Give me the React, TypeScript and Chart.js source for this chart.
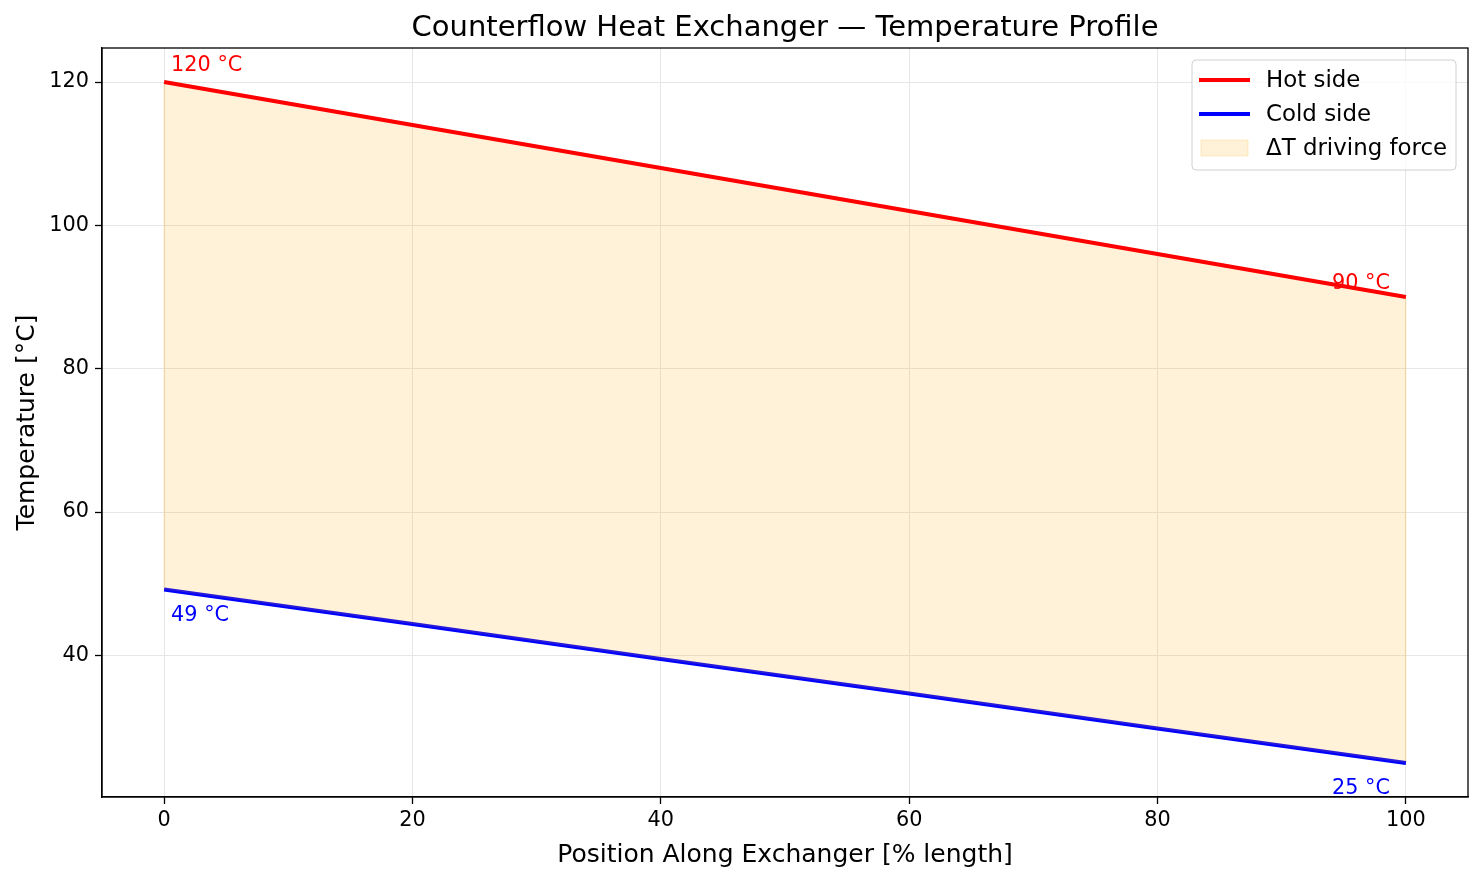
import React, { useEffect, useRef } from "react";
import { Chart, registerables } from "chart.js";

Chart.register(...registerables);

const positions = [0, 20, 40, 60, 80, 100];
const hotSide = [120, 114, 108, 102, 96, 90];
const coldSide = [49.2, 44.4, 39.5, 34.7, 29.8, 25.0];
const xTickValues = [0, 20, 40, 60, 80, 100];
const yTickValues = [40, 60, 80, 100, 120];
const legendLabels = ["Hot side", "Cold side", "ΔT driving force"];

const FONT = "'DejaVu Sans', sans-serif";
const FILL = "rgba(255,165,0,0.15)";

const overlay = {
  id: "overlay",
  beforeDatasetsDraw(chart: any) {
    const { ctx, scales } = chart;
    const x = scales.x;
    const y = scales.y;
    ctx.save();
    ctx.strokeStyle = "rgba(255,165,0,0.2)";
    ctx.lineWidth = 1.2;
    [0, positions.length - 1].forEach((i) => {
      const px = x.getPixelForValue(positions[i]);
      ctx.beginPath();
      ctx.moveTo(px, y.getPixelForValue(hotSide[i]));
      ctx.lineTo(px, y.getPixelForValue(coldSide[i]));
      ctx.stroke();
    });
    ctx.restore();
  },
  afterDraw(chart: any) {
    const { ctx, chartArea, scales } = chart;
    const x = scales.x;
    const y = scales.y;
    ctx.save();
    ctx.strokeStyle = "#000";
    ctx.lineWidth = 1.3;
    ctx.strokeRect(chartArea.left, chartArea.top, chartArea.right - chartArea.left, chartArea.bottom - chartArea.top);

    ctx.fillStyle = "#000";
    ctx.font = `29px ${FONT}`;
    ctx.textAlign = "center";
    ctx.textBaseline = "alphabetic";
    ctx.fillText("Counterflow Heat Exchanger — Temperature Profile", (chartArea.left + chartArea.right) / 2, 36);

    ctx.font = `25px ${FONT}`;
    ctx.fillText("Position Along Exchanger [% length]", (chartArea.left + chartArea.right) / 2, 862);
    ctx.save();
    ctx.translate(34, (chartArea.top + chartArea.bottom) / 2);
    ctx.rotate(-Math.PI / 2);
    ctx.fillText("Temperature [°C]", 0, 0);
    ctx.restore();

    const last = positions.length - 1;
    ctx.font = `20.8px ${FONT}`;
    ctx.fillStyle = "red";
    ctx.textAlign = "left";
    ctx.fillText(`${hotSide[0]} °C`, x.getPixelForValue(positions[0]) + 7, y.getPixelForValue(hotSide[0]) - 11);
    ctx.textAlign = "right";
    ctx.fillText(`${hotSide[last]} °C`, x.getPixelForValue(positions[last]) - 16, y.getPixelForValue(hotSide[last]) - 8);
    ctx.fillStyle = "blue";
    ctx.textAlign = "left";
    ctx.fillText(`${Math.round(coldSide[0])} °C`, x.getPixelForValue(positions[0]) + 7, y.getPixelForValue(coldSide[0]) + 31);
    ctx.textAlign = "right";
    ctx.fillText(`${Math.round(coldSide[last])} °C`, x.getPixelForValue(positions[last]) - 16, y.getPixelForValue(coldSide[last]) + 31);

    const lx = 1192, ly = 60, lw = 264, lh = 110;
    ctx.fillStyle = "rgba(255,255,255,0.8)";
    ctx.strokeStyle = "#d0d0d0";
    ctx.lineWidth = 1;
    const r = 4;
    ctx.beginPath();
    ctx.moveTo(lx + r, ly);
    ctx.lineTo(lx + lw - r, ly);
    ctx.quadraticCurveTo(lx + lw, ly, lx + lw, ly + r);
    ctx.lineTo(lx + lw, ly + lh - r);
    ctx.quadraticCurveTo(lx + lw, ly + lh, lx + lw - r, ly + lh);
    ctx.lineTo(lx + r, ly + lh);
    ctx.quadraticCurveTo(lx, ly + lh, lx, ly + lh - r);
    ctx.lineTo(lx, ly + r);
    ctx.quadraticCurveTo(lx, ly, lx + r, ly);
    ctx.closePath();
    ctx.fill();
    ctx.stroke();

    const rows = [80, 114, 148];
    ctx.lineWidth = 4;
    ctx.strokeStyle = "red";
    ctx.beginPath();
    ctx.moveTo(1199, rows[0]);
    ctx.lineTo(1250, rows[0]);
    ctx.stroke();
    ctx.strokeStyle = "blue";
    ctx.beginPath();
    ctx.moveTo(1199, rows[1]);
    ctx.lineTo(1250, rows[1]);
    ctx.stroke();
    ctx.fillStyle = FILL;
    ctx.fillRect(1201, rows[2] - 8, 47, 16);
    ctx.strokeStyle = "rgba(255,165,0,0.2)";
    ctx.lineWidth = 1;
    ctx.strokeRect(1201, rows[2] - 8, 47, 16);

    ctx.fillStyle = "#000";
    ctx.font = `22.9px ${FONT}`;
    ctx.textAlign = "left";
    ctx.textBaseline = "middle";
    legendLabels.forEach((t, i) => ctx.fillText(t, 1266, rows[i] + 1));
    ctx.restore();
  },
};

export default function App() {
  const ref = useRef<HTMLCanvasElement>(null);
  useEffect(() => {
    if (!ref.current) return;
    const chart = new Chart(ref.current, {
      type: "line",
      data: {
        datasets: [
          {
            label: legendLabels[0],
            data: positions.map((p, i) => ({ x: p, y: hotSide[i] })),
            borderColor: "red",
            borderWidth: 4,
            pointRadius: 0,
            fill: "+1",
            backgroundColor: FILL,
            tension: 0,
          },
          {
            label: legendLabels[1],
            data: positions.map((p, i) => ({ x: p, y: coldSide[i] })),
            borderColor: "blue",
            borderWidth: 4,
            pointRadius: 0,
            fill: false,
            tension: 0,
          },
        ],
      },
      plugins: [overlay],
      options: {
        animation: false,
        responsive: false,
        maintainAspectRatio: false,
        layout: { padding: { left: 0, top: 48, right: 14, bottom: 0 } },
        plugins: { legend: { display: false }, title: { display: false }, tooltip: { enabled: false } },
        scales: {
          x: {
            type: "linear",
            min: -5,
            max: 105,
            afterFit: (s: any) => { s.height = 83; s.paddingLeft = 0; s.paddingRight = 0; },
            afterBuildTicks: (s: any) => { s.ticks = xTickValues.map((v) => ({ value: v })); },
            ticks: { color: "#000", font: { family: FONT, size: 20.8 }, padding: 4, maxRotation: 0, autoSkip: false },
            grid: { color: "#e6e6e6", lineWidth: 1, tickColor: "#000", tickLength: 7, tickWidth: 1.3 },
            border: { display: true, color: "#000", width: 1.3 },
          },
          y: {
            type: "linear",
            min: 20.25,
            max: 124.75,
            afterFit: (s: any) => { s.width = 102; s.paddingTop = 0; s.paddingBottom = 0; },
            afterBuildTicks: (s: any) => { s.ticks = yTickValues.map((v) => ({ value: v })); },
            ticks: { color: "#000", font: { family: FONT, size: 20.8 }, padding: 6, autoSkip: false },
            grid: { color: "#e6e6e6", lineWidth: 1, tickColor: "#000", tickLength: 7, tickWidth: 1.3 },
            border: { display: true, color: "#000", width: 1.3 },
          },
        },
      },
    });
    return () => chart.destroy();
  }, []);
  return (
    <div style={{ position: "fixed", left: 0, top: 0, width: 1482, height: 880, background: "#fff" }}>
      <canvas ref={ref} width={1482} height={880} style={{ width: 1482, height: 880 }} />
    </div>
  );
}
